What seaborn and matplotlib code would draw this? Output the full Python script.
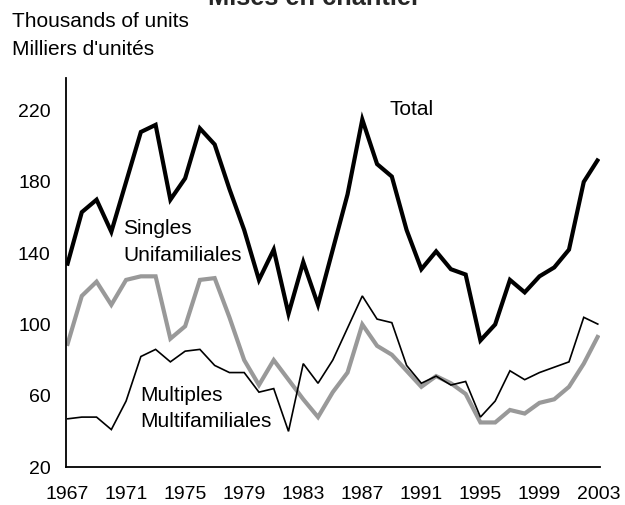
import numpy as np
import pandas as pd
import matplotlib
matplotlib.use("Agg")
import matplotlib.pyplot as plt
import seaborn as sns
from matplotlib.ticker import MultipleLocator, FixedLocator

# housing starts, thousands of units
years = list(range(1967, 2004))
total = [133, 163, 170, 152, 180, 208, 212, 170, 182, 210, 201, 176, 153, 125,
         142, 106, 135, 111, 142, 173, 215, 190, 183, 153, 131, 141, 131, 128,
         91, 100, 125, 118, 127, 132, 142, 180, 193]
singles = [88, 116, 124, 111, 125, 127, 127, 92, 99, 125, 126, 104, 80, 66,
           80, 69, 58, 48, 62, 73, 100, 88, 83, 74, 65, 71, 67, 61,
           45, 45, 52, 50, 56, 58, 65, 78, 94]
multiples = [47, 48, 48, 41, 57, 82, 86, 79, 85, 86, 77, 73, 73, 62,
             64, 40, 78, 67, 80, 98, 116, 103, 101, 77, 67, 71, 66, 68,
             48, 57, 74, 69, 73, 76, 79, 104, 100]

df = pd.DataFrame({"year": years, "total": total, "singles": singles, "multiples": multiples})

sns.set_style("white")
plt.rcParams["font.family"] = ["Liberation Sans", "DejaVu Sans"]

fig = plt.figure(figsize=(6.25, 5.05), dpi=100)
ax = fig.add_axes([66 / 625, 38 / 505, 534 / 625, 389 / 505])

line_kw = dict(solid_joinstyle="miter", solid_capstyle="butt")
sns.lineplot(data=df, x="year", y="singles", color="#999999", linewidth=3.0, ax=ax, **line_kw)
sns.lineplot(data=df, x="year", y="multiples", color="black", linewidth=1.2, ax=ax, **line_kw)
sns.lineplot(data=df, x="year", y="total", color="black", linewidth=3.0, ax=ax, **line_kw)

ax.set_xlim(1966.93, 2003.1)
ax.set_ylim(20, 238.3)
ax.xaxis.set_major_locator(FixedLocator(range(1967, 2004, 4)))
ax.xaxis.set_minor_locator(MultipleLocator(1))
ax.yaxis.set_major_locator(FixedLocator(range(20, 221, 40)))
ax.tick_params(axis="x", which="major", direction="in", length=5, width=1, pad=14, labelsize=14)
ax.tick_params(axis="x", which="minor", direction="in", length=3, width=1)
ax.tick_params(axis="y", which="major", direction="in", length=5, width=1, pad=11, labelsize=14)
ax.tick_params(colors="black")
ax.set_xlabel("")
ax.set_ylabel("")

for s in ["top", "right"]:
    ax.spines[s].set_visible(False)
for s in ["left", "bottom"]:
    ax.spines[s].set_color("black")
    ax.spines[s].set_linewidth(1.3)

txt = dict(fontsize=15, color="black", va="baseline", ha="left")
ax.text(1988.85, 217.8, "Total", **txt)
ax.text(1970.82, 150.8, "Singles", **txt)
ax.text(1970.82, 135.8, "Unifamiliales", **txt)
ax.text(1971.95, 57.3, "Multiples", **txt)
ax.text(1971.95, 42.3, "Multifamiliales", **txt)

fig.text(11.7 / 625, 1 - 26.7 / 505, "Thousands of units", **txt)
fig.text(11.7 / 625, 1 - 55 / 505, "Milliers d'unités", **txt)
# title sits partly above the top edge, as in the source image
fig.text(208 / 625, 1 - 5 / 505, "Mises en chantier", fontsize=18.3, fontweight="bold",
         va="baseline", ha="left")

fig.savefig("out.png", dpi=100)
